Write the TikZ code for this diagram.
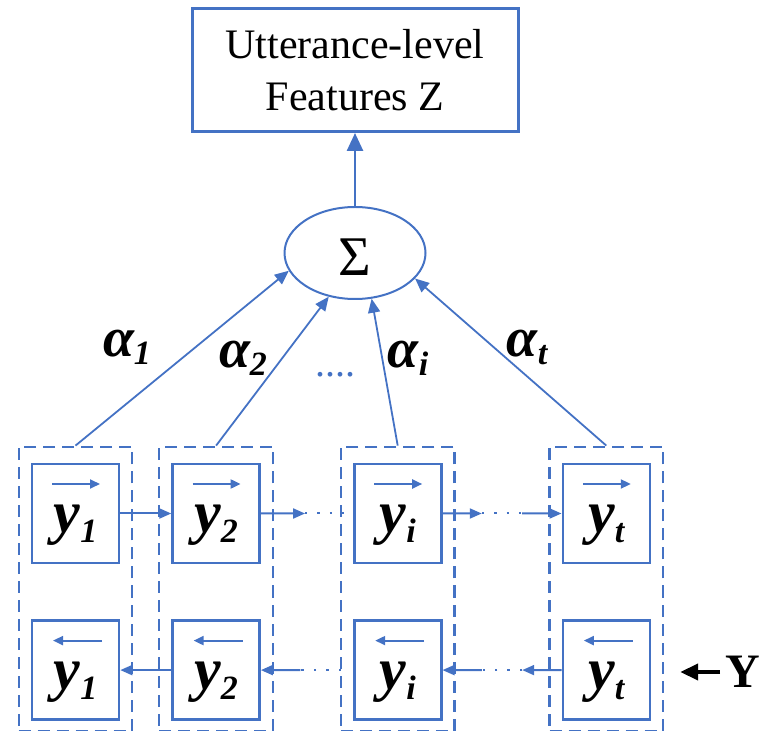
\documentclass[tikz,border=0pt]{standalone}
\usepackage{fontspec}
\setmainfont{Liberation Serif}
\usetikzlibrary{shapes.geometric, arrows.meta, positioning, calc, fit}
\definecolor{cellblue}{RGB}{68, 114, 196}

\newcommand{\hstate}[1]{{\fontsize{30}{30}\selectfont\bfseries\itshape y}\raisebox{-5pt}{\fontsize{17}{17}\selectfont\bfseries\itshape #1}}
\newcommand{\attw}[1]{{\fontsize{28}{28}\selectfont\bfseries\itshape α}\raisebox{-4pt}{\fontsize{17}{17}\selectfont\bfseries\itshape #1}}

\begin{document}
\begin{tikzpicture}[
    x=0.5pt, y=-0.5pt,
    cell/.style={rectangle, draw=cellblue, line width=1.3pt, minimum width=43.5pt, minimum height=49.5pt, inner sep=0pt, text height=30pt, text depth=10.8pt},
    group/.style={rectangle, draw=cellblue, line width=1.1pt, dash pattern=on 6pt off 3.5pt, inner xsep=6pt, inner ysep=6.5pt},
    outbox/.style={rectangle, draw=cellblue, line width=1.5pt, minimum width=163pt, minimum height=61.5pt, align=center, font=\fontsize{21}{26}\selectfont},
    sumnode/.style={ellipse, draw=cellblue, line width=1pt, minimum width=70.5pt, minimum height=46pt, inner sep=0pt, text height=22.5pt, font=\fontsize{28}{28}\selectfont},
    link/.style={draw=cellblue, line width=1pt, -{Triangle[length=6pt,width=5pt]}},
    dotlink/.style={draw=cellblue, line width=1pt, dash pattern=on 1.2pt off 5pt},
    vecarrow/.style={draw=cellblue, line width=1pt, -{Triangle[length=5pt,width=4.5pt]}},
    weight/.style={draw=cellblue, line width=0.9pt, -{Triangle[length=7pt,width=6pt]}},
    mainlink/.style={draw=cellblue, line width=1.3pt, -{Triangle[length=9pt,width=8pt]}},
    inarrow/.style={draw=black, line width=2pt, -{Triangle[length=9pt,width=8pt]}}
]
\useasboundingbox (0,0) rectangle (760,731);

% Forward row
\node[cell] (f1) at (75.5,513.5) {\hstate{1}};
\node[cell, right=25.5pt of f1] (f2) {\hstate{2}};
\node[cell, right=46pt of f2] (f3) {\hstate{i}};
\node[cell, right=59.5pt of f3] (f4) {\hstate{t}};

% Backward row
\node[cell, below=27.5pt of f1] (b1) {\hstate{1}};
\node[cell, below=27.5pt of f2] (b2) {\hstate{2}};
\node[cell, below=27.5pt of f3] (b3) {\hstate{i}};
\node[cell, below=27.5pt of f4] (b4) {\hstate{t}};

% Direction arrows over the states
\draw[vecarrow] ([xshift=-11.75pt,yshift=14.75pt]f1.center) -- ([xshift=12.25pt,yshift=14.75pt]f1.center);
\draw[vecarrow] ([xshift=-11.75pt,yshift=14.75pt]f2.center) -- ([xshift=12.25pt,yshift=14.75pt]f2.center);
\draw[vecarrow] ([xshift=-11.75pt,yshift=14.75pt]f3.center) -- ([xshift=12.25pt,yshift=14.75pt]f3.center);
\draw[vecarrow] ([xshift=-11.75pt,yshift=14.75pt]f4.center) -- ([xshift=12.25pt,yshift=14.75pt]f4.center);
\draw[vecarrow] ([xshift=13.25pt,yshift=14.75pt]b1.center) -- ([xshift=-11.25pt,yshift=14.75pt]b1.center);
\draw[vecarrow] ([xshift=13.25pt,yshift=14.75pt]b2.center) -- ([xshift=-11.25pt,yshift=14.75pt]b2.center);
\draw[vecarrow] ([xshift=13.25pt,yshift=14.75pt]b3.center) -- ([xshift=-11.25pt,yshift=14.75pt]b3.center);
\draw[vecarrow] ([xshift=13.25pt,yshift=14.75pt]b4.center) -- ([xshift=-11.25pt,yshift=14.75pt]b4.center);

% Time steps (dashed frames)
\node[group, fit=(f1)(b1), yshift=1.5pt] (col1) {};
\node[group, fit=(f2)(b2), yshift=1.5pt] (col2) {};
\node[group, fit=(f3)(b3), yshift=1.5pt] (col3) {};
\node[group, fit=(f4)(b4), yshift=1.5pt] (col4) {};

% Forward links
\draw[link] (f1) -- (f2);
\coordinate (m23a) at ($(f2.east)!.48!(f3.west)$);
\coordinate (m23b) at ($(f2.east)!.9!(f3.west)$);
\draw[link] (f2) -- (m23a);
\draw[dotlink] (m23a) -- (m23b);
\coordinate (m34a) at ($(f3.east)!.33!(f4.west)$);
\coordinate (m34b) at ($(f3.east)!.67!(f4.west)$);
\draw[link] (f3) -- (m34a);
\draw[dotlink] (m34a) -- (m34b);
\draw[link] (m34b) -- (f4);

% Backward links
\draw[link] (b2) -- (b1);
\coordinate (n23a) at ($(b2.east)!.43!(b3.west)$);
\coordinate (n23b) at ($(b2.east)!.87!(b3.west)$);
\draw[dotlink] (n23b) -- (n23a);
\draw[link] (n23a) -- (b2);
\coordinate (n34a) at ($(b3.east)!.33!(b4.west)$);
\coordinate (n34b) at ($(b3.east)!.67!(b4.west)$);
\draw[link] (b4) -- (n34b);
\draw[dotlink] (n34b) -- (n34a);
\draw[link] (n34a) -- (b3);

% Input
\node[inner sep=0pt, anchor=west, font=\fontsize{24}{24}\selectfont\bfseries] (ylab) at (725,672) {Y};
\draw[inarrow, shorten <=2.5pt, shorten >=8pt] (ylab.west) -- (col4.east |- ylab.west);

% Attention sum and output
\node[sumnode] (sum) at (355,253) {Σ};
\node[outbox, above=36.5pt of sum] (feat) {Utterance-level\\Features Z};
\draw[mainlink] (sum) -- (feat);

\draw[weight] (col1.north) -- (sum.-165);
\draw[weight] (col2.north) -- (sum.-121);
\draw[weight] (col3.north) -- (sum.-70);
\draw[weight] (col4.north) -- (sum.-23);

\node (a1) at (127,347) {\attw{1}};
\node (a2) at (243,358) {\attw{2}};
\node (ai) at (408,358) {\attw{i}};
\node (at) at (527,347) {\attw{t}};
\node[text=cellblue, font=\fontsize{20}{20}\selectfont] (wdots) at (335,375) {....};

\end{tikzpicture}
\end{document}
